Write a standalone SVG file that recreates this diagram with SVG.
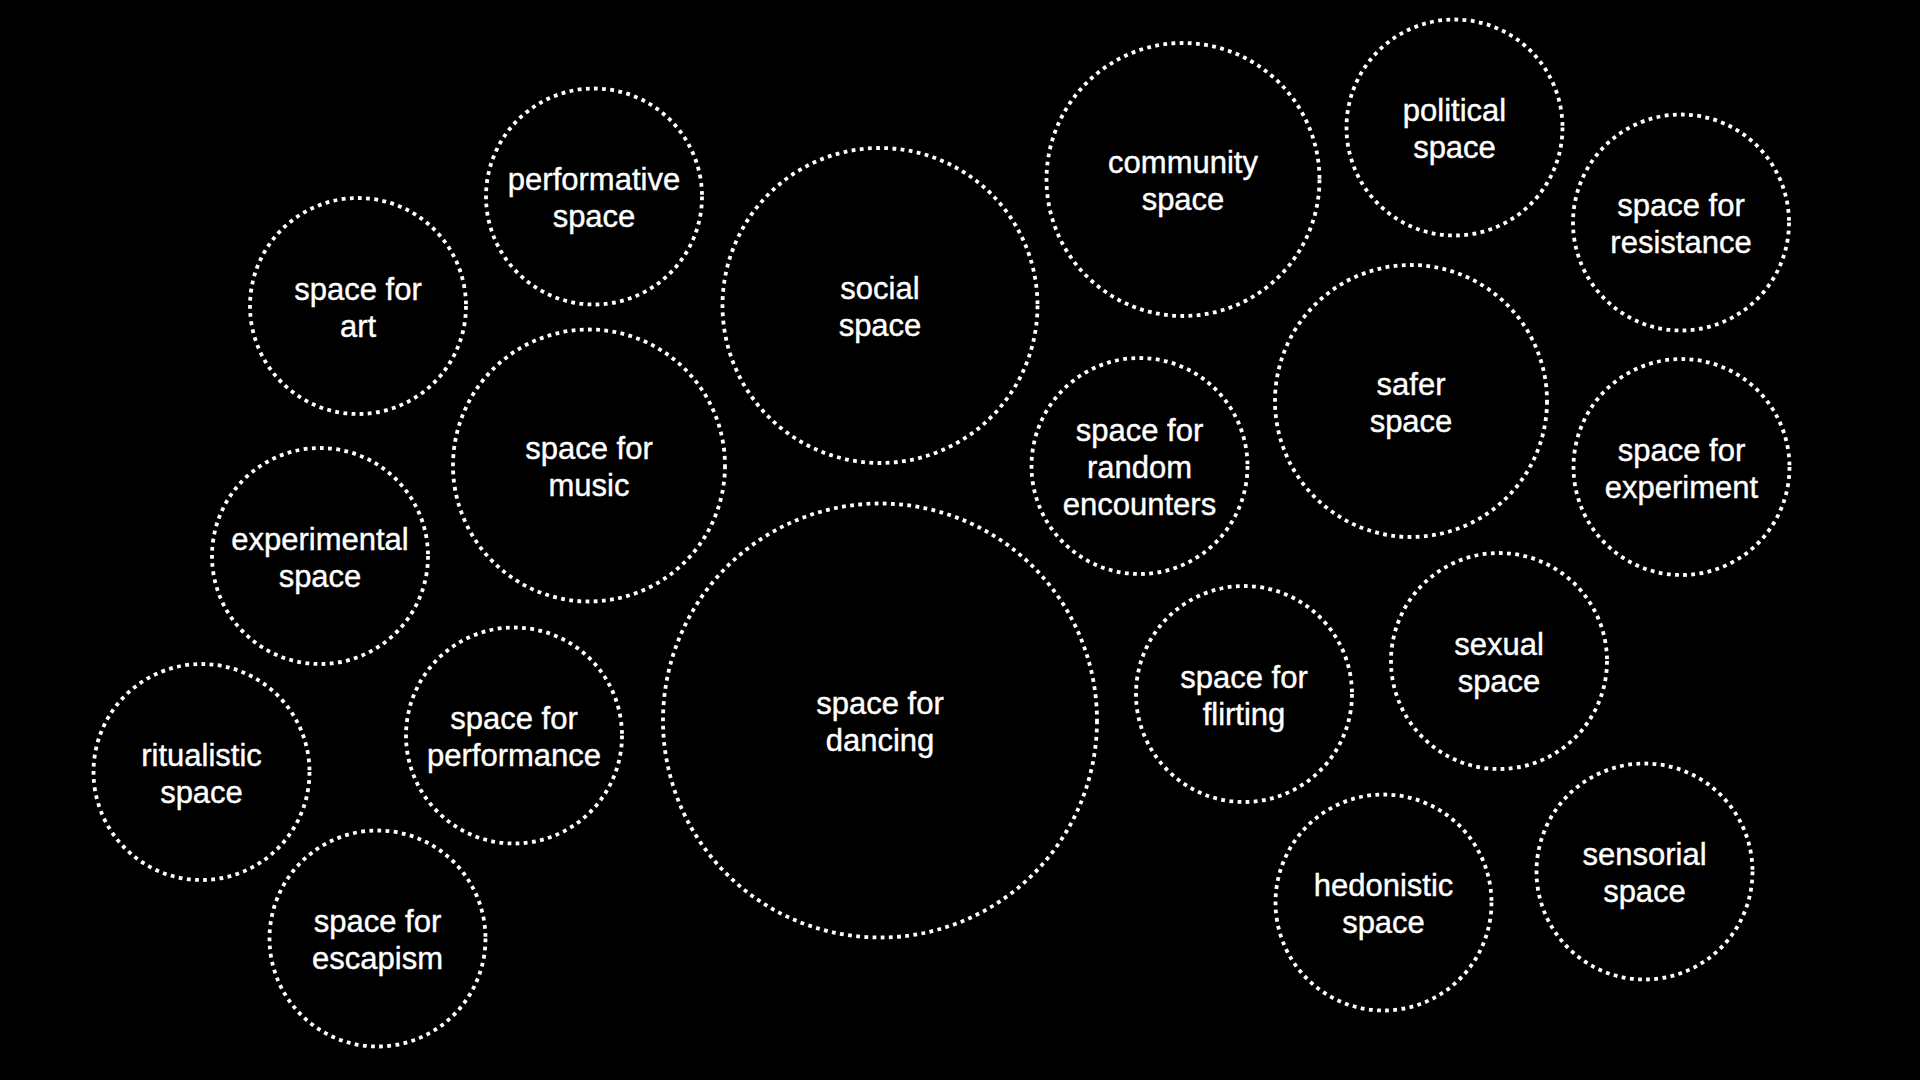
<svg xmlns="http://www.w3.org/2000/svg" width="1920" height="1080" viewBox="0 0 1920 1080">
<style>
.b{fill:none;stroke:#fff;stroke-width:3.8;stroke-dasharray:3.8 4.4}
.t{fill:#fff;font-family:"Liberation Sans",Arial,Helvetica,sans-serif;font-size:31px;text-anchor:middle;stroke:#fff;stroke-width:0.4}
</style>
<rect width="1920" height="1080" fill="#000"/>
<g id="connectors"/>
<g id="n-performative"><circle class="b" cx="594" cy="196.5" r="108"/><text class="t" x="594" y="190">performative</text><text class="t" x="594" y="227">space</text></g>
<g id="n-art"><circle class="b" cx="358" cy="306" r="108"/><text class="t" x="358" y="299.5">space for</text><text class="t" x="358" y="336.5">art</text></g>
<g id="n-social"><circle class="b" cx="880" cy="305.5" r="157.5"/><text class="t" x="880" y="299">social</text><text class="t" x="880" y="336">space</text></g>
<g id="n-community"><circle class="b" cx="1183" cy="179.5" r="136.5"/><text class="t" x="1183" y="173">community</text><text class="t" x="1183" y="210">space</text></g>
<g id="n-political"><circle class="b" cx="1454.5" cy="127.5" r="108"/><text class="t" x="1454.5" y="121">political</text><text class="t" x="1454.5" y="158">space</text></g>
<g id="n-resistance"><circle class="b" cx="1681" cy="222.5" r="108"/><text class="t" x="1681" y="216">space for</text><text class="t" x="1681" y="253">resistance</text></g>
<g id="n-safer"><circle class="b" cx="1411" cy="401" r="136"/><text class="t" x="1411" y="394.5">safer</text><text class="t" x="1411" y="431.5">space</text></g>
<g id="n-random"><circle class="b" cx="1139.5" cy="466" r="108"/><text class="t" x="1139.5" y="441">space for</text><text class="t" x="1139.5" y="478">random</text><text class="t" x="1139.5" y="515">encounters</text></g>
<g id="n-experiment"><circle class="b" cx="1681.5" cy="467" r="108"/><text class="t" x="1681.5" y="460.5">space for</text><text class="t" x="1681.5" y="497.5">experiment</text></g>
<g id="n-music"><circle class="b" cx="589" cy="465.5" r="136"/><text class="t" x="589" y="459">space for</text><text class="t" x="589" y="496">music</text></g>
<g id="n-experimental"><circle class="b" cx="320" cy="556" r="108"/><text class="t" x="320" y="549.5">experimental</text><text class="t" x="320" y="586.5">space</text></g>
<g id="n-dancing"><circle class="b" cx="880" cy="720.5" r="217"/><text class="t" x="880" y="714">space for</text><text class="t" x="880" y="751">dancing</text></g>
<g id="n-flirting"><circle class="b" cx="1244" cy="694" r="108"/><text class="t" x="1244" y="687.5">space for</text><text class="t" x="1244" y="724.5">flirting</text></g>
<g id="n-sexual"><circle class="b" cx="1499" cy="661" r="108"/><text class="t" x="1499" y="654.5">sexual</text><text class="t" x="1499" y="691.5">space</text></g>
<g id="n-ritualistic"><circle class="b" cx="201.5" cy="772" r="108"/><text class="t" x="201.5" y="765.5">ritualistic</text><text class="t" x="201.5" y="802.5">space</text></g>
<g id="n-performance"><circle class="b" cx="514" cy="735.5" r="108"/><text class="t" x="514" y="729">space for</text><text class="t" x="514" y="766">performance</text></g>
<g id="n-escapism"><circle class="b" cx="377.5" cy="938.5" r="108"/><text class="t" x="377.5" y="932">space for</text><text class="t" x="377.5" y="969">escapism</text></g>
<g id="n-hedonistic"><circle class="b" cx="1383.5" cy="902.5" r="108"/><text class="t" x="1383.5" y="896">hedonistic</text><text class="t" x="1383.5" y="933">space</text></g>
<g id="n-sensorial"><circle class="b" cx="1644.5" cy="871.5" r="108"/><text class="t" x="1644.5" y="865">sensorial</text><text class="t" x="1644.5" y="902">space</text></g>
</svg>
